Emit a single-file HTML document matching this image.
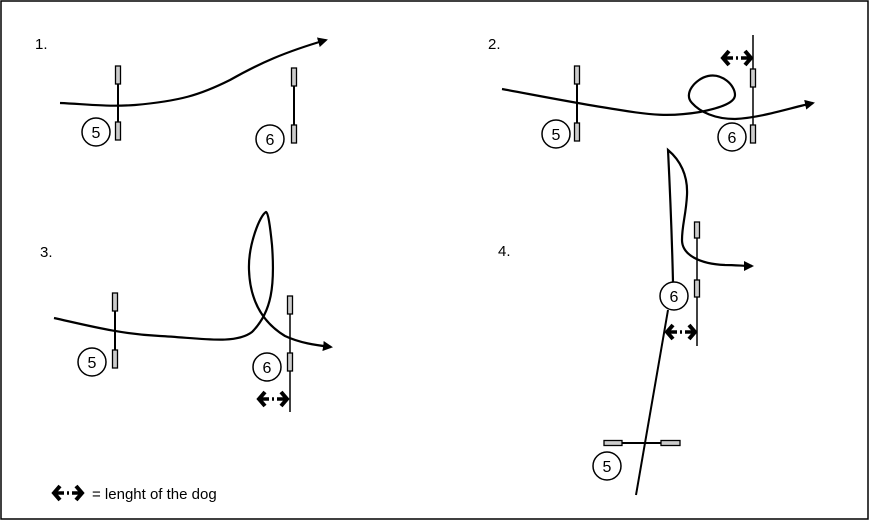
<!DOCTYPE html>
<html><head><style>
html,body{margin:0;padding:0;background:#fff;}
svg{display:block;}
text{font-family:"Liberation Sans",sans-serif;fill:#000;}
</style></head><body>
<svg width="870" height="522" viewBox="0 0 870 522" xmlns="http://www.w3.org/2000/svg">
<defs>
<marker id="ah" markerWidth="10" markerHeight="10" refX="8" refY="5" orient="auto" markerUnits="userSpaceOnUse">
<path d="M0,0 L10,5 L0,10 Z" fill="#000"/>
</marker>
<g id="dbl">
<path d="M-8,-7 L-14,0 L-8,7 M8,-7 L14,0 L8,7" fill="none" stroke="#000" stroke-width="4"/>
<path d="M-13,0 H-4 M-1,0 H1 M4,0 H13" stroke="#000" stroke-width="3.5"/>
</g>
</defs>
<rect x="1" y="1" width="867" height="518" fill="none" stroke="#000" stroke-width="1.5"/>
<g font-size="15">
<text x="35" y="49">1.</text>
<text x="488" y="49">2.</text>
<text x="40" y="257">3.</text>
<text x="498" y="256">4.</text>
</g>
<g fill="#ccc" stroke="#000" stroke-width="1.3">
<line x1="118" y1="84" x2="118" y2="122" stroke-width="2"/>
<rect x="115.5" y="66" width="5" height="18"/><rect x="115.5" y="122" width="5" height="18"/>
<line x1="294" y1="86" x2="294" y2="125" stroke-width="2"/>
<rect x="291.5" y="68" width="5" height="18"/><rect x="291.5" y="125" width="5" height="18"/>
<line x1="577" y1="84" x2="577" y2="123" stroke-width="2"/>
<rect x="574.5" y="66" width="5" height="18"/><rect x="574.5" y="123" width="5" height="18"/>
<line x1="753" y1="35" x2="753" y2="125" stroke-width="1.5"/>
<rect x="750.5" y="69" width="5" height="18"/><rect x="750.5" y="125" width="5" height="18"/>
<line x1="115" y1="311" x2="115" y2="350" stroke-width="2"/>
<rect x="112.5" y="293" width="5" height="18"/><rect x="112.5" y="350" width="5" height="18"/>
<line x1="290" y1="314" x2="290" y2="412" stroke-width="1.5"/>
<rect x="287.5" y="296" width="5" height="18"/><rect x="287.5" y="353" width="5" height="18"/>
<line x1="697" y1="236" x2="697" y2="346" stroke-width="1.5"/>
<rect x="694.5" y="222" width="5" height="16"/><rect x="694.5" y="280" width="5" height="17"/>
<line x1="622" y1="443" x2="661" y2="443" stroke-width="2"/>
<rect x="604" y="440.5" width="18" height="5"/><rect x="661" y="440.5" width="19" height="5"/>
</g>
<g fill="#fff" stroke="#000" stroke-width="1.5">
<circle cx="96" cy="132" r="14"/><circle cx="270" cy="139" r="14"/>
<circle cx="556" cy="134" r="14"/><circle cx="732" cy="137" r="14"/>
<circle cx="92" cy="362" r="14"/><circle cx="267" cy="367" r="14"/>
<circle cx="674" cy="296" r="14"/><circle cx="607" cy="466" r="14"/>
</g>
<g font-size="16" text-anchor="middle">
<text x="96" y="138">5</text><text x="270" y="145">6</text>
<text x="556" y="140">5</text><text x="732" y="143">6</text>
<text x="92" y="368">5</text><text x="267" y="373">6</text>
<text x="674" y="302">6</text><text x="607" y="472">5</text>
</g>
<g fill="none" stroke="#000" stroke-width="2.2">
<path d="M60,103 C85,104 105,107 135,105 C180,101 200,95 230,80 C260,63 285,52 326,40" marker-end="url(#ah)"/>
<path d="M502,89 C540,96 580,104 620,110 C650,115 670,117 700,112 C715,109 735,104 735,95 C735,85 722,73 708,76 C695,79 683,94 692,103 C700,112 715,119 735,119 C760,118 790,108 813,103" marker-end="url(#ah)"/>
<path d="M54,318 C90,326 120,334 160,336 C200,338 235,345 252,332 C272,312 275,285 272,245 C270,225 268,212 266,212 C260,215 248,245 249,270 C250,300 262,322 285,336 C300,343 315,345 331,347" marker-end="url(#ah)"/>
<path d="M673,282 C672,240 670,190 668,150 C680,160 688,175 687,195 C686,215 682,225 682,240 C682,255 700,264 725,265 C735,265 745,266 752,266" marker-end="url(#ah)"/>
</g>
<line x1="668" y1="310" x2="636" y2="495" stroke="#000" stroke-width="2"/>
<use href="#dbl" x="737" y="58"/>
<use href="#dbl" x="273" y="399"/>
<use href="#dbl" x="681" y="332"/>
<use href="#dbl" x="68" y="493"/>
<text x="92" y="499" font-size="15">= lenght of the dog</text>
</svg>
</body></html>
